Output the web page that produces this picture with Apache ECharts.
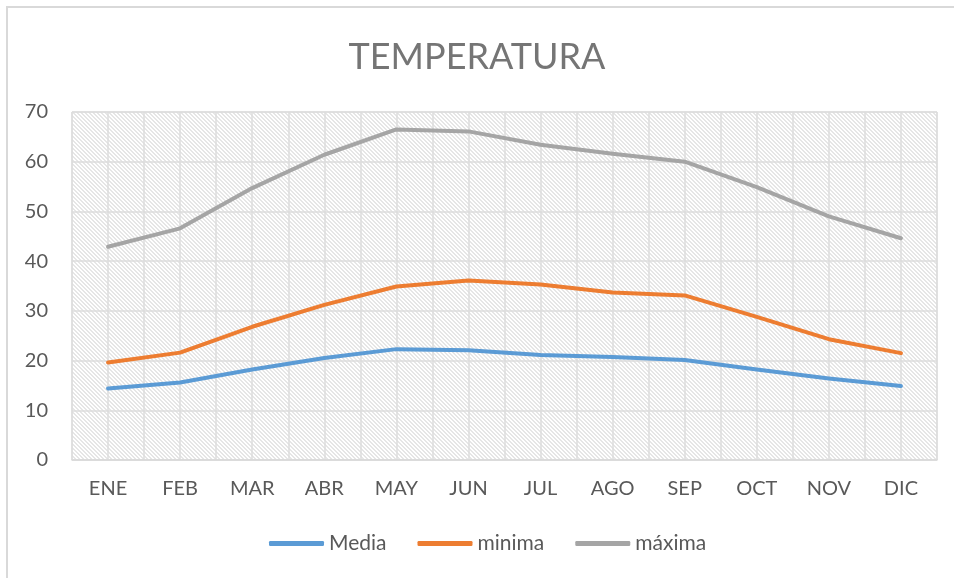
<!DOCTYPE html>
<html>
<head>
<meta charset="utf-8">
<style>
  html, body { margin: 0; padding: 0; background: #fff; }
  #container { width: 954px; height: 578px; }
</style>
<script src="https://cdn.jsdelivr.net/npm/echarts@6/dist/echarts.min.js"></script>
</head>
<body>
<div id="container"></div>
<script>
var meses = ['ENE', 'FEB', 'MAR', 'ABR', 'MAY', 'JUN', 'JUL', 'AGO', 'SEP', 'OCT', 'NOV', 'DIC'];
var media = [14.4, 15.6, 18.2, 20.5, 22.3, 22.1, 21.1, 20.7, 20.1, 18.2, 16.4, 14.9];
var minima = [19.6, 21.6, 26.8, 31.2, 34.9, 36.1, 35.3, 33.7, 33.1, 28.8, 24.3, 21.5];
var maxima = [42.9, 46.6, 54.7, 61.4, 66.5, 66.1, 63.4, 61.6, 60.0, 54.9, 49.0, 44.6];
// medias celdas, solo para las lineas verticales de la cuadricula
var medias = [];
meses.forEach(function (m) { medias.push(m + 'a', m + 'b'); });

var dom = document.getElementById('container');
var myChart = echarts.init(dom, null, { renderer: 'canvas' });

// trama diagonal del area de trazado
var tile = document.createElement('canvas');
tile.width = 4;
tile.height = 4;
var ctx = tile.getContext('2d');
ctx.fillStyle = '#ffffff';
ctx.fillRect(0, 0, 4, 4);
ctx.fillStyle = '#e6e6e6';
for (var i = 0; i < 4; i++) {
    ctx.fillRect(i, i, 1, 1);
    ctx.fillRect((i + 1) % 4, i, 1, 1);
}

var fuente = 'Lato, "Open Sans", sans-serif';

function serie(nombre, datos, color) {
    return {
        name: nombre,
        type: 'line',
        data: datos,
        symbol: 'none',
        lineStyle: { color: color, width: 4, cap: 'round', join: 'round' },
        itemStyle: { color: color }
    };
}

var option = {
    animation: false,
    title: {
        text: 'TEMPERATURA',
        left: 'center',
        top: 34,
        textStyle: { fontFamily: fuente, fontSize: 36, fontWeight: 'normal', color: '#757575' }
    },
    graphic: [{
        type: 'rect',
        shape: { x: 7, y: 7, width: 1000, height: 700 },
        style: { fill: 'none', stroke: '#d9d9d9', lineWidth: 2 },
        silent: true
    }],
    grid: {
        left: 72,
        right: 17,
        top: 112,
        bottom: 118,
        show: true,
        backgroundColor: { image: tile, repeat: 'repeat' },
        borderColor: '#d9d9d9',
        borderWidth: 1
    },
    legend: {
        bottom: 19,
        left: 264,
        itemWidth: 55,
        itemHeight: 5,
        itemGap: 31,
        icon: 'roundRect',
        textStyle: { fontFamily: fuente, fontSize: 21, color: '#595959' },
        data: ['Media', 'minima', 'máxima']
    },
    xAxis: [{
        type: 'category',
        data: meses,
        boundaryGap: true,
        axisLine: { lineStyle: { color: '#d9d9d9', width: 1.5 } },
        axisTick: { show: false },
        splitLine: { show: false },
        axisLabel: { fontFamily: fuente, fontSize: 20, color: '#595959', margin: 19 }
    }, {
        type: 'category',
        data: medias,
        position: 'bottom',
        boundaryGap: true,
        axisLine: { show: false },
        axisTick: { show: false },
        axisLabel: { show: false },
        splitLine: { show: true, interval: 0, lineStyle: { color: '#dddddd', width: 1.5 } }
    }],
    yAxis: {
        type: 'value',
        min: 0,
        max: 70,
        interval: 10,
        axisLine: { show: false },
        axisTick: { show: false },
        axisLabel: { fontFamily: fuente, fontSize: 20, color: '#595959', margin: 24 },
        splitLine: { lineStyle: { color: '#dddddd', width: 1.5 } }
    },
    series: [
        serie('Media', media, '#5b9bd5'),
        serie('minima', minima, '#ed7d31'),
        serie('máxima', maxima, '#a5a5a5')
    ]
};

myChart.setOption(option);
window.addEventListener('resize', myChart.resize);
</script>
</body>
</html>
